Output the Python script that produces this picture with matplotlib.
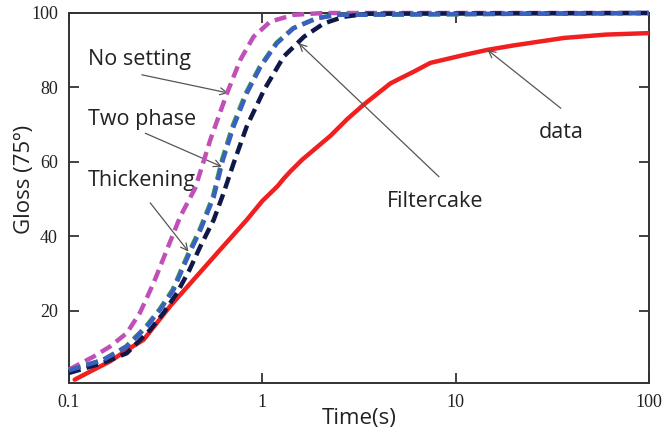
import numpy as np
import matplotlib.pyplot as plt
from matplotlib.ticker import FixedLocator, NullLocator

# ============================================================
# 数据
# ============================================================
t_data = [0.107, 0.13, 0.163, 0.2, 0.243, 0.333, 0.44, 0.605, 0.83, 1.0, 1.2, 1.29,
          1.4, 1.6, 2.25, 2.75, 3.33, 4.6, 5.2, 6.05, 7.4, 11.0, 14.6, 20.0, 36.3, 60.0, 100.0]
g_data = [1.5, 3.8, 6.4, 9.5, 12.2, 21.2, 28.3, 36.4, 44.4, 49.5, 53.5, 55.5,
          57.5, 60.5, 67.0, 71.5, 75.3, 81.1, 82.5, 84.2, 86.6, 88.7, 90.1, 91.3, 93.3, 94.2, 94.6]

t_noset = [0.1, 0.134, 0.163, 0.199, 0.233, 0.274, 0.321, 0.376, 0.45, 0.538,
           0.656, 0.769, 0.90, 1.10, 1.45, 2.07, 100.0]
g_noset = [4.2, 7.7, 10.4, 14.0, 19.5, 27.5, 36.4, 45.3, 53.0, 65.9,
           78.4, 87.4, 93.6, 97.7, 99.5, 100.0, 100.0]

t_twophase = [0.1, 0.15, 0.199, 0.253, 0.296, 0.347, 0.391, 0.42, 0.478, 0.56,
              0.625, 0.71, 0.83, 0.98, 1.19, 1.45, 1.92, 2.44, 100.0]
g_twophase = [4.0, 6.8, 10.4, 15.8, 20.3, 25.6, 31.9, 35.5, 41.7, 50.5,
              60.5, 69.5, 78.4, 85.6, 91.9, 95.9, 98.6, 99.5, 100.0]

t_thick = [0.1, 0.15, 0.197, 0.25, 0.293, 0.343, 0.387, 0.415, 0.473, 0.554,
           0.618, 0.70, 0.82, 0.97, 1.18, 1.44, 1.90, 2.42, 100.0]
g_thick = [4.0, 6.8, 10.4, 15.8, 20.3, 25.6, 31.9, 35.5, 41.7, 50.5,
           60.5, 69.5, 78.4, 85.6, 91.9, 95.9, 98.6, 99.5, 100.0]

t_filter = [0.1, 0.15, 0.199, 0.263, 0.308, 0.362, 0.42, 0.478, 0.56, 0.63,
            0.71, 0.83, 1.02, 1.29, 1.64, 2.08, 2.64, 3.5, 100.0]
g_filter = [3.3, 6.0, 8.6, 14.9, 19.4, 24.8, 31.0, 37.3, 44.4, 51.6,
            59.6, 69.5, 79.3, 88.3, 93.6, 97.2, 99.0, 99.8, 100.0]

x_ticks = [0.1, 1, 10, 100]
x_ticklabels = ["0.1", "1", "10", "100"]
y_ticks = [20, 40, 60, 80, 100]

# ============================================================
# 绘图
# ============================================================
fig = plt.figure(figsize=(6.67, 4.33), dpi=100)
ax = fig.add_axes([69 / 667, 1 - 383 / 433, 580 / 667, 370 / 433])

lw = 3.2
dash = (2.7, 1.4)
ax.plot(t_data, g_data, color="#f02020", lw=lw, solid_capstyle="round", zorder=3)
ax.plot(t_noset, g_noset, color="#c050b8", lw=lw, dashes=dash, clip_on=False, zorder=4)
ax.plot(t_thick, g_thick, color="#40a040", lw=lw, dashes=dash, clip_on=False, zorder=4)
ax.plot(t_twophase, g_twophase, color="#3a60c0", lw=lw, dashes=dash, clip_on=False, zorder=5)
ax.plot(t_filter, g_filter, color="#101848", lw=lw, dashes=dash, clip_on=False, zorder=4)

ax.set_xscale("log")
ax.set_xlim(0.1, 100)
ax.set_ylim(0.6, 100)
ax.xaxis.set_major_locator(FixedLocator(x_ticks))
ax.xaxis.set_minor_locator(NullLocator())
ax.set_xticklabels(x_ticklabels)
ax.set_yticks(y_ticks)

for lbl in ax.get_xticklabels() + ax.get_yticklabels():
    lbl.set_family("Liberation Serif")
    lbl.set_fontsize(13)
    lbl.set_color("#222222")

ax.tick_params(direction="in", length=7, width=1.3, color="#333333",
               top=True, right=True, labeltop=False, labelright=False, pad=8)
for s in ax.spines.values():
    s.set_linewidth(1.4)
    s.set_color("#333333")

ax.set_xlabel("Time(s)", family="Open Sans", fontsize=16, labelpad=-2, color="#222222")
ax.set_ylabel("Gloss (75º)", family="Open Sans", fontsize=16, color="#222222")
ax.yaxis.set_label_coords(-0.058, 0.55)

arrow = dict(arrowstyle="->,head_length=0.5,head_width=0.25", color="#555555",
             lw=0.9, shrinkA=0, shrinkB=0)
txt = dict(family="Open Sans", fontsize=15.5, color="#222222", va="baseline")

ax.text(0.1254, 86.0, "No setting", **txt)
ax.annotate("", xy=(0.667, 78.5), xytext=(0.238, 83.4), arrowprops=arrow)
ax.text(0.1254, 69.8, "Two phase", **txt)
ax.annotate("", xy=(0.618, 58.7), xytext=(0.248, 67.7), arrowprops=arrow)
ax.text(0.1254, 53.6, "Thickening", **txt)
ax.annotate("", xy=(0.415, 35.9), xytext=(0.263, 49.0), arrowprops=arrow)
ax.text(4.39, 48.0, "Filtercake", **txt)
ax.annotate("", xy=(1.54, 91.9), xytext=(8.2, 56.0), arrowprops=arrow)
ax.text(26.9, 66.4, "data", **txt)
ax.annotate("", xy=(14.6, 90.1), xytext=(35.0, 74.4), arrowprops=arrow)

plt.savefig("out.png", dpi=100)
